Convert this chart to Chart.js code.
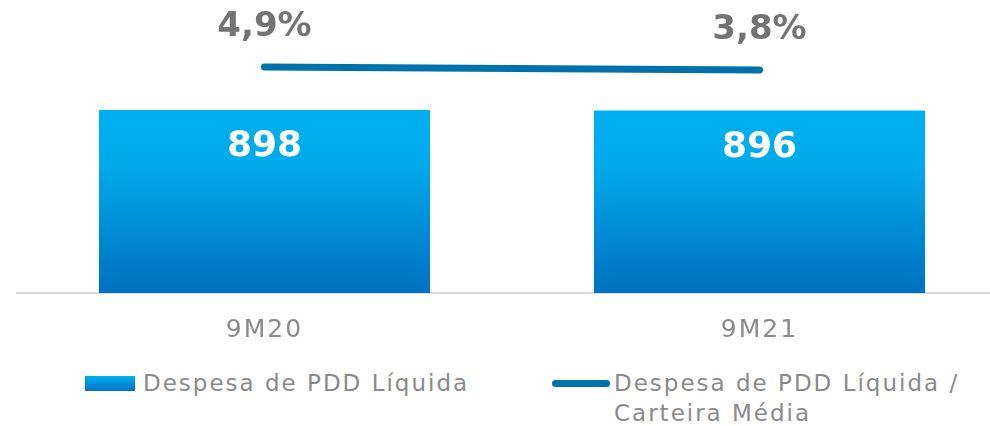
<!DOCTYPE html>
<html lang="pt-BR">
<head>
    <meta charset="UTF-8">
    <title>Despesa de PDD</title>
    <script src="https://cdn.jsdelivr.net/npm/chart.js"></script>
    <style>
        body {
            margin: 0;
            width: 990px;
            height: 426px;
            overflow: hidden;
            background: #ffffff;
            font-family: "DejaVu Sans", sans-serif;
            position: relative;
        }

        #chartBox {
            position: absolute;
            left: 0;
            top: 0;
        }

        .legend {
            position: absolute;
            top: 368px;
            left: 0;
            width: 990px;
            color: #8A8A8A;
            font-size: 23px;
            line-height: 30px;
        }

        .legend-item {
            position: absolute;
            display: flex;
            align-items: flex-start;
        }

        .legend-box {
            width: 50px;
            height: 15px;
            margin-top: 8px;
            margin-right: 8px;
            background: linear-gradient(#00B0F0, #0070C0);
        }

        .legend-line {
            width: 58px;
            height: 7px;
            border-radius: 4px;
            margin-top: 12px;
            margin-right: 4px;
            background: #0072AA;
        }

        .legend-text {
            font-weight: 400;
            letter-spacing: 2px;
        }
    </style>
</head>
<body>
    <div id="chartBox">
        <canvas id="pddChart" width="1024" height="360"></canvas>
    </div>
    <div class="legend" id="legend"></div>

    <script>
        const categories = ['9M20', '9M21'];
        const despesaPDD = [898, 896];           // R$ milhões
        const despesaSobreCarteira = [4.9, 3.8]; // %

        const barLabel = 'Despesa de PDD Líquida';
        const lineLabel = 'Despesa de PDD Líquida / Carteira Média';

        function fmtPct(v) {
            return v.toFixed(1).replace('.', ',') + '%';
        }

        // wider letter spacing for the category ticks only
        const tickSpacing = {
            id: 'tickSpacing',
            beforeDraw(chart) { chart.ctx.letterSpacing = '2px'; },
            beforeDatasetsDraw(chart) { chart.ctx.letterSpacing = '0px'; }
        };

        // value labels on bars and above the line
        const valueLabels = {
            id: 'valueLabels',
            afterDatasetsDraw(chart) {
                const ctx = chart.ctx;
                ctx.save();
                ctx.textAlign = 'center';
                ctx.textBaseline = 'middle';

                chart.getDatasetMeta(0).data.forEach((bar, i) => {
                    ctx.fillStyle = '#ffffff';
                    ctx.font = 'bold 36px "DejaVu Sans", sans-serif';
                    ctx.fillText(despesaPDD[i], bar.x, bar.y + 37);
                });

                chart.getDatasetMeta(1).data.forEach((pt, i) => {
                    ctx.fillStyle = '#737373';
                    ctx.font = 'bold 34px "DejaVu Sans", sans-serif';
                    ctx.fillText(fmtPct(despesaSobreCarteira[i]), pt.x, pt.y - 40);
                });
                ctx.restore();
            }
        };

        function barGradient(context) {
            const chart = context.chart;
            const area = chart.chartArea;
            if (!area) return '#00B0F0';
            const top = chart.scales.y.getPixelForValue(Math.max(...despesaPDD));
            const g = chart.ctx.createLinearGradient(0, top, 0, area.bottom);
            g.addColorStop(0, '#00B0F0');
            g.addColorStop(0.3, '#00AAEB');
            g.addColorStop(1, '#0070C0');
            return g;
        }

        const ctx = document.getElementById('pddChart').getContext('2d');
        new Chart(ctx, {
            data: {
                labels: categories,
                datasets: [
                    {
                        type: 'bar',
                        label: barLabel,
                        data: despesaPDD,
                        backgroundColor: barGradient,
                        categoryPercentage: 1,
                        barPercentage: 0.669,
                        yAxisID: 'y',
                        order: 2
                    },
                    {
                        type: 'line',
                        label: lineLabel,
                        data: despesaSobreCarteira,
                        borderColor: '#0072AA',
                        borderWidth: 7,
                        borderCapStyle: 'round',
                        pointRadius: 0,
                        tension: 0,
                        yAxisID: 'y2',
                        order: 1
                    }
                ]
            },
            options: {
                responsive: false,
                animation: false,
                layout: {
                    padding: { left: 17, right: 17, top: 0, bottom: 0 }
                },
                plugins: {
                    legend: { display: false },
                    tooltip: { enabled: false }
                },
                scales: {
                    x: {
                        grid: { display: false, drawTicks: false },
                        border: { display: true, color: '#D9D9D9', width: 2 },
                        ticks: {
                            color: '#8A8A8A',
                            font: { family: '"DejaVu Sans", sans-serif', size: 25, weight: '400' },
                            padding: 22
                        },
                        afterFit(scale) { scale.height = 67; }
                    },
                    y: {
                        display: false,
                        min: 0,
                        max: 1438
                    },
                    y2: {
                        display: false,
                        position: 'right',
                        min: -78,
                        max: 29.5
                    }
                }
            },
            plugins: [tickSpacing, valueLabels]
        });

        // html legend built from dataset labels
        const legend = document.getElementById('legend');
        legend.innerHTML = `
            <div class="legend-item" style="left:85px; width:450px;">
                <div class="legend-box"></div>
                <div class="legend-text">${barLabel}</div>
            </div>
            <div class="legend-item" style="left:552px; width:438px;">
                <div class="legend-line"></div>
                <div class="legend-text" style="width:375px;">${lineLabel}</div>
            </div>
        `;
    </script>
</body>
</html>
